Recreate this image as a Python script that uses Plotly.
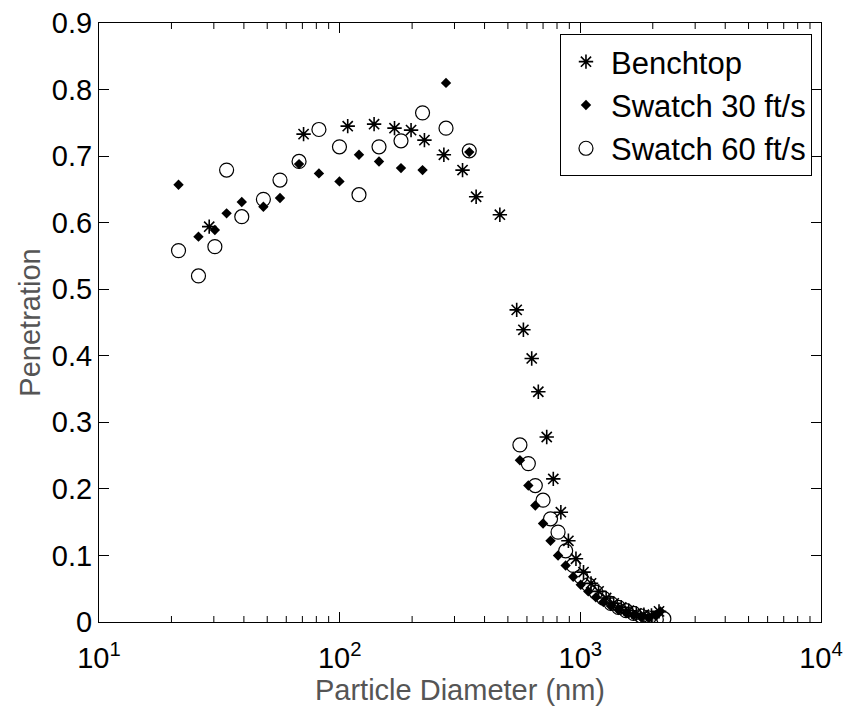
import plotly.graph_objects as go

# ---- data ----
bench_d = [28.7, 70.8, 108, 139, 169, 198, 225, 271, 324, 369, 463,
           544, 580, 628, 669, 725, 772, 830, 892, 959, 1031, 1108, 1191,
           1280, 1376, 1479, 1590, 1709, 1837, 1975, 2123]
bench_p = [0.594, 0.733, 0.745, 0.748, 0.742, 0.739, 0.724, 0.702, 0.679, 0.639, 0.612,
           0.469, 0.439, 0.396, 0.346, 0.278, 0.215, 0.165, 0.122, 0.095, 0.075, 0.058, 0.046,
           0.036, 0.028, 0.022, 0.017, 0.013, 0.011, 0.010, 0.016]

s30_d = [21.4, 25.9, 30.3, 33.9, 39.2, 48.2, 56.5, 67.8, 82, 99.8, 120.3, 145.7, 179.8,
         221, 276.6, 345.6,
         561, 608, 650, 700, 752, 808, 869, 934, 1004, 1079, 1160, 1247, 1340, 1441,
         1549, 1665, 1790, 1924, 2068, 2150]
s30_p = [0.657, 0.579, 0.589, 0.614, 0.631, 0.624, 0.637, 0.688, 0.674, 0.662, 0.702, 0.692, 0.682,
         0.679, 0.810, 0.706,
         0.243, 0.205, 0.175, 0.148, 0.122, 0.100, 0.085, 0.068, 0.056, 0.046, 0.037, 0.030, 0.024, 0.018,
         0.014, 0.010, 0.007, 0.006, 0.010, 0.016]

s60_d = [21.4, 25.9, 30.3, 33.9, 39.2, 48.2, 56.5, 67.8, 82, 99.8, 120.3, 145.7, 179.8,
         221, 276.6, 345.6,
         561, 608, 650, 700, 752, 808, 869, 934, 1004, 1079, 1160, 1247, 1340, 1441,
         1549, 1665, 1790, 1924, 2068, 2223]
s60_p = [0.558, 0.520, 0.564, 0.679, 0.609, 0.635, 0.664, 0.692, 0.740, 0.714, 0.642, 0.714, 0.723,
         0.765, 0.742, 0.708,
         0.266, 0.238, 0.205, 0.183, 0.155, 0.135, 0.107, 0.085, 0.068, 0.056, 0.045, 0.036, 0.028, 0.022,
         0.017, 0.013, 0.009, 0.006, 0.004, 0.005]

x_tickvals = [10, 100, 1000, 10000]
x_ticktext = ["10<sup>1</sup>", "10<sup>2</sup>", "10<sup>3</sup>", "10<sup>4</sup>"]
decades = [10, 100, 1000]
minor_digits = [2, 3, 4, 5, 6, 7, 8, 9]
x_minor = [d * m for d in decades for m in minor_digits]
y_tickvals = [0, 0.1, 0.2, 0.3, 0.4, 0.5, 0.6, 0.7, 0.8, 0.9]
y_ticktext = ["0", "0.1", "0.2", "0.3", "0.4", "0.5", "0.6", "0.7", "0.8", "0.9"]

fig = go.Figure()
fig.add_trace(go.Scatter(
    x=bench_d, y=bench_p, mode="markers", name="Benchtop",
    marker=dict(symbol="asterisk-open", size=12, color="black",
                line=dict(color="black", width=1.6))))
fig.add_trace(go.Scatter(
    x=s30_d, y=s30_p, mode="markers", name="Swatch 30 ft/s",
    marker=dict(symbol="diamond", size=8, color="black",
                line=dict(color="black", width=0))))
fig.add_trace(go.Scatter(
    x=s60_d, y=s60_p, mode="markers", name="Swatch 60 ft/s",
    marker=dict(symbol="circle-open", size=14, color="black",
                line=dict(color="black", width=1.2))))

# minor log ticks (bottom and top, pointing inward), drawn as pixel-sized shapes
for xv in x_minor:
    fig.add_shape(type="line", xref="x", yref="paper", ysizemode="pixel",
                  yanchor=0, x0=xv, x1=xv, y0=0, y1=6,
                  line=dict(color="black", width=1), layer="above")
    fig.add_shape(type="line", xref="x", yref="paper", ysizemode="pixel",
                  yanchor=1, x0=xv, x1=xv, y0=0, y1=-6,
                  line=dict(color="black", width=1), layer="above")

FONT = "Liberation Sans, Arial, sans-serif"
tick_font = dict(family=FONT, size=29, color="black")
title_font = dict(family=FONT, size=29, color="#555555")

fig.update_layout(
    width=845, height=711, autosize=False,
    margin=dict(l=99, r=24, t=23, b=89),
    paper_bgcolor="white", plot_bgcolor="white",
    showlegend=True,
    legend=dict(x=0.9875, y=0.9816, xanchor="right", yanchor="top",
                bordercolor="black", borderwidth=1, bgcolor="white",
                font=dict(family=FONT, size=31, color="black"),
                tracegroupgap=0, itemwidth=40),
    xaxis=dict(type="log", range=[1, 4], tickvals=x_tickvals, ticktext=x_ticktext,
               ticks="inside", ticklen=10, tickcolor="black", tickwidth=1,
               showline=True, linecolor="black", linewidth=1, mirror="allticks",
               showgrid=False, zeroline=False, tickfont=tick_font,
               ticklabelstandoff=10, automargin=False,
               title=dict(text="Particle Diameter (nm)", font=title_font, standoff=2)),
    yaxis=dict(range=[0, 0.9], tickvals=y_tickvals, ticktext=y_ticktext,
               ticks="inside", ticklen=10, tickcolor="black", tickwidth=1,
               showline=True, linecolor="black", linewidth=1, mirror="allticks",
               showgrid=False, zeroline=False, tickfont=tick_font, automargin=False,
               title=dict(text="Penetration", font=title_font, standoff=2)),
)

fig.write_html("out.html")
